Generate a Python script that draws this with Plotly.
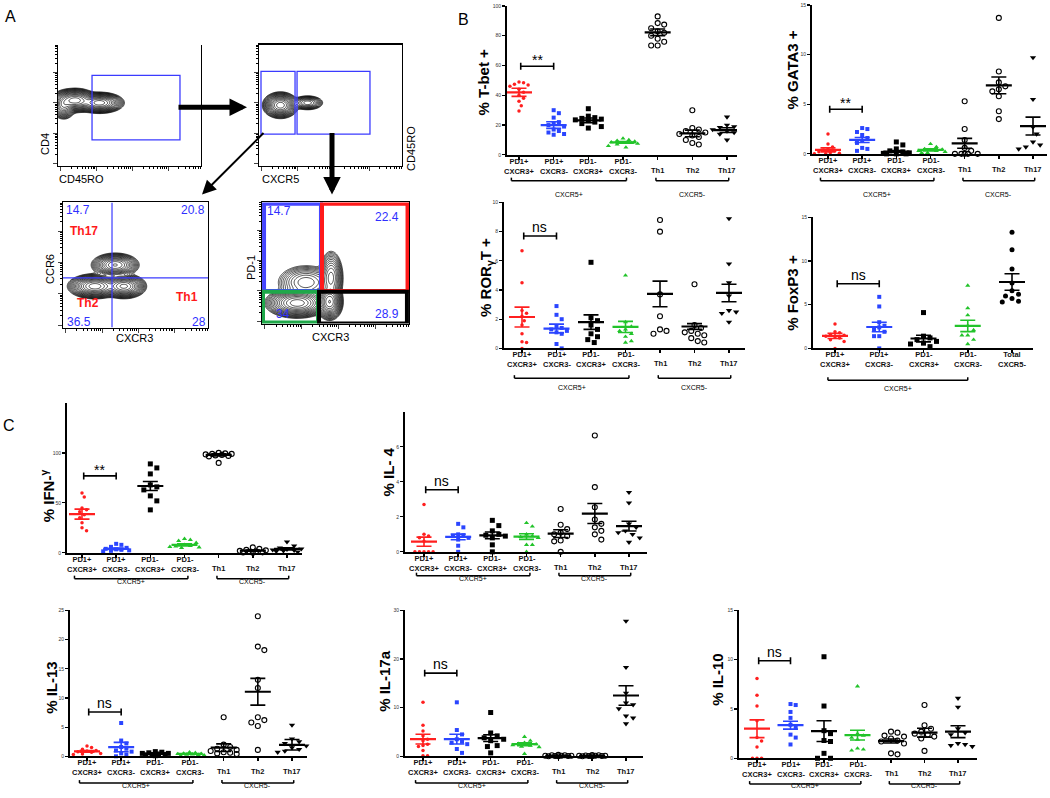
import numpy as np
import plotly.graph_objects as go

W, H = 1050, 798
FONT = "Liberation Sans, Arial, sans-serif"
TFONT = "Liberation Sans Narrow, Arial Narrow, Liberation Sans, Arial, sans-serif"
RED = "#ff1f1f"
BLUE = "#2a45ff"
GREEN = "#22c32a"
BLACK = "#000000"
GATE_BLUE = "#3b3bff"

# ---------------- data ----------------
CATS7 = ["PD1+<br>CXCR3+", "PD1+<br>CXCR3-", "PD1-<br>CXCR3+", "PD1-<br>CXCR3-", "Th1", "Th2", "Th17"]
CATS5 = ["PD1+<br>CXCR3+", "PD1+<br>CXCR3-", "PD1-<br>CXCR3+", "PD1-<br>CXCR3-", "Total<br>CXCR5-"]

TBET = [
    [49, 48.5, 47.5, 47, 46, 44, 42, 40, 38, 36, 33, 29.5],
    [30, 28, 25, 22, 21, 20, 19, 17, 16, 15, 14, 13.5],
    [31, 26, 25, 24.5, 24, 23.5, 23, 22, 21, 19, 18],
    [11, 10, 9.5, 9, 8.5, 8, 8, 7.5, 7, 6, 5],
    [93, 88.5, 87.5, 85, 83, 82, 80, 78, 76, 73.5, 73.5],
    [30, 18, 17, 16, 15, 14, 13, 12, 10, 8, 7],
    [25.5, 20, 19, 18.5, 18, 17, 16, 15, 14, 12, 10],
]
TBET_MEAN = [42, 20, 23.2, 8.4, 82.3, 14.4, 16.6]
TBET_SEM = [2.7, 2.2, 1.6, 0.5, 2.2, 2.2, 1.6]

GATA3 = [
    [2.0, 1.0, 0.7, 0.5, 0.4, 0.3, 0.2, 0.1, 0.05, 0, 0],
    [2.6, 2.5, 2.2, 1.9, 1.6, 1.3, 1.1, 0.6, 0.5, 0.3],
    [1.2, 0.9, 0.5, 0.3, 0.2, 0.1, 0.05, 0, 0, 0],
    [1.0, 0.7, 0.5, 0.45, 0.4, 0.3, 0.3, 0.2, 0.1, 0.1],
    [5.3, 2.5, 1.4, 0.6, 0.3, 0, 0, 0, 0, 0],
    [13.7, 8.3, 7.2, 6.8, 6.5, 6.3, 5.8, 4.3, 3.5],
    [9.7, 5.5, 2.7, 2.0, 1.2, 0.9, 0.7, 0.6, 0.5],
]
GATA3_MEAN = [0.4, 1.4, 0.23, 0.4, 1.06, 6.9, 2.8]
GATA3_SEM = [0.2, 0.25, 0.1, 0.1, 0.5, 0.85, 0.9]

RORGT = [
    [6.7, 4.5, 2.6, 2.4, 2.2, 1.9, 1.6, 1.0, 0.45, 0.4, 0],
    [2.9, 2.3, 2.0, 1.5, 1.4, 1.3, 1.2, 1.1, 1.0, 0.3, 0],
    [5.9, 2.1, 1.9, 1.6, 1.3, 1.0, 0.8, 0.6, 0.4],
    [5.0, 1.8, 1.5, 1.3, 1.2, 1.0, 0.8, 0.5, 0.4],
    [8.8, 8.0, 3.7, 2.2, 1.3, 1.2, 1.0],
    [4.4, 1.6, 1.4, 1.2, 1.1, 1.0, 0.9, 0.7, 0.5, 0.4],
    [8.9, 5.8, 4.5, 3.6, 2.6, 2.5, 2.4, 1.8],
]
RORGT_MEAN = [2.15, 1.36, 1.8, 1.47, 3.73, 1.5, 3.8]
RORGT_SEM = [0.68, 0.3, 0.5, 0.38, 0.88, 0.2, 0.6]

FOXP3 = [
    [2.8, 1.9, 1.8, 1.6, 1.5, 1.4, 1.3, 1.2, 1.0, 0.8, 0],
    [5.9, 4.8, 3.0, 2.6, 2.4, 2.2, 1.9, 1.4, 1.4, 0],
    [4.1, 1.4, 1.2, 1.0, 0.8, 0.6, 0.5, 0.2],
    [7.2, 4.6, 3.8, 2.6, 2.1, 1.5, 1.5, 1.0, 0.5],
    [13.3, 11.3, 9.1, 7.5, 6.6, 6.2, 6.0, 5.7, 5.4, 5.3],
]
FOXP3_MEAN = [1.43, 2.45, 1.13, 2.57, 7.6]
FOXP3_SEM = [0.3, 0.55, 0.38, 0.65, 0.95]

IFNG = [
    [60, 56, 45, 43, 41, 38, 35, 30, 25, 22],
    [9, 8, 6, 5, 4, 3.5, 3, 2.5, 2, 1.5],
    [89, 85, 79, 68, 66, 63, 57, 52, 43],
    [14, 13, 12, 10, 8, 7, 6.5, 6, 5.5, 5],
    [100, 99.5, 99, 99, 98.5, 98, 97.5, 97, 96.5, 90],
    [5.5, 4, 3, 2.5, 2, 1.5, 1, 0.5, 0.3, 0.1],
    [11, 7, 5, 4, 3.5, 3, 2.5, 2, 1.5, 1],
]
IFNG_MEAN = [38.7, 4, 66.9, 8, 98, 2.3, 4]
IFNG_SEM = [5, 0.8, 4.5, 1, 1, 0.6, 1]

IL4 = [
    [2.7, 1.0, 0.9, 0.8, 0.6, 0, 0, 0, 0, 0],
    [1.6, 1.4, 1.0, 0.95, 0.9, 0.8, 0.7, 0.35, 0],
    [1.8, 1.5, 1.2, 1.0, 0.95, 0.9, 0.8, 0.4, 0],
    [1.65, 1.45, 1.0, 0.9, 0.85, 0.8, 0.4, 0.4, 0],
    [2.45, 1.55, 1.3, 1.1, 1.0, 0.9, 0.65, 0.6, 0],
    [6.65, 3.7, 2.55, 1.85, 1.6, 1.4, 1.2, 1.0, 0.7],
    [3.4, 2.8, 1.6, 1.4, 1.2, 1.1, 1.0, 0.8, 0.55],
]
IL4_MEAN = [0.58, 0.85, 0.94, 0.87, 1.04, 2.19, 1.47]
IL4_SEM = [0.26, 0.16, 0.19, 0.16, 0.22, 0.57, 0.28]

IL13 = [
    [1.75, 1.5, 1.2, 1.0, 0.9, 0.8, 0.7, 0.5, 0.4, 0.3],
    [5.7, 2.7, 2.2, 1.6, 1.3, 1.0, 0.8, 0.5, 0.3, 0],
    [0.8, 0.7, 0.6, 0.5, 0.5, 0.4, 0.3, 0.3, 0.2, 0.1],
    [0.7, 0.6, 0.5, 0.45, 0.4, 0.35, 0.3, 0.25, 0.2, 0.1],
    [6.7, 2.0, 1.6, 1.3, 1.1, 0.9, 0.7, 0.6, 0.5, 0.4],
    [24.0, 18.8, 18.2, 13.1, 11.7, 6.7, 6.2, 5.8, 5.2, 1.1],
    [5.35, 3.0, 2.5, 2.2, 1.8, 1.5, 1.2, 0.9, 0.7],
]
IL13_MEAN = [0.85, 1.58, 0.45, 0.4, 1.47, 11.06, 1.97]
IL13_SEM = [0.15, 0.8, 0.07, 0.06, 0.65, 2.3, 0.9]

IL17A = [
    [11.1, 6.4, 5.2, 4.2, 3.5, 3.2, 2.5, 2.2, 2.0, 1.2, 0.1, 0.1],
    [11.1, 5.4, 4.5, 3.5, 3.0, 2.8, 2.5, 1.5, 0.7],
    [9.0, 4.8, 4.2, 3.8, 3.5, 3.2, 2.2, 2.0, 0.7],
    [4.0, 3.2, 2.8, 2.6, 2.5, 2.3, 2.2, 2.0, 1.9, 0.5],
    [0.3, 0.2, 0.2, 0.1, 0.1, 0.1, 0.05, 0.05, 0, 0],
    [0.25, 0.2, 0.15, 0.1, 0.1, 0.1, 0.05, 0.05, 0, 0],
    [27.8, 18.3, 13.0, 11.0, 10.6, 9.8, 8.3, 7.9, 6.7],
]
IL17A_MEAN = [3.53, 3.53, 3.73, 2.5, 0.1, 0.1, 12.5]
IL17A_SEM = [1.0, 1.0, 0.7, 0.3, 0.03, 0.03, 2.0]

IL10 = [
    [8.1, 6.4, 5.3, 3.8, 2.1, 1.75, 1.15, 0, 0, 0],
    [5.5, 5.4, 4.7, 4.1, 3.4, 3.1, 2.4, 2.1, 1.4],
    [10.3, 5.3, 2.8, 2.5, 1.8, 1.7, 0.5, 0, 0],
    [7.3, 2.5, 2.3, 2.1, 1.9, 1.0, 0.9, 0.8],
    [2.7, 2.6, 2.3, 2.2, 2.0, 1.8, 1.7, 1.5, 0.5, 0.4],
    [5.4, 3.35, 3.0, 2.7, 2.5, 2.4, 2.2, 2.0, 0.75],
    [6.1, 5.2, 3.0, 2.6, 2.4, 1.5, 1.4, 1.3, 1.2],
]
IL10_MEAN = [3.0, 3.36, 2.75, 2.35, 1.75, 2.6, 2.7]
IL10_SEM = [0.9, 0.4, 1.05, 0.5, 0.2, 0.45, 0.6]

# flow-cytometry density blobs: (x, y, sx, sy, weight) in axis fraction
FLOW1_BLOBS = [(0.12, 0.54, 0.05, 0.032, 1.0), (0.29, 0.52, 0.055, 0.028, 1.0), (0.04, 0.50, 0.03, 0.04, 0.4)]
FLOW2_BLOBS = [(0.15, 0.50, 0.04, 0.035, 1.0), (0.34, 0.52, 0.04, 0.022, 0.2)]
FLOW3_BLOBS = [(0.22, 0.33, 0.06, 0.032, 1.0), (0.42, 0.33, 0.05, 0.032, 0.9), (0.36, 0.50, 0.055, 0.032, 0.6)]
FLOW4_BLOBS = [(0.24, 0.17, 0.07, 0.04, 1.0), (0.46, 0.18, 0.03, 0.05, 0.8), (0.30, 0.34, 0.075, 0.055, 0.15), (0.47, 0.38, 0.03, 0.08, 0.25)]

# ---------------- figure helpers ----------------
fig = go.Figure()
layout = dict(width=W, height=H, margin=dict(l=0, r=0, t=0, b=0),
              paper_bgcolor="white", plot_bgcolor="rgba(0,0,0,0)",
              showlegend=False, hovermode=False,
              font=dict(family=FONT, color="black"))
shapes = []
annotations = []
axis_count = [0]


def px_x(px):
    return px / W


def px_y(py):
    return 1 - py / H


def new_axes(box, xr, yr, xkw, ykw):
    axis_count[0] += 1
    k = axis_count[0]
    xn = "xaxis" if k == 1 else f"xaxis{k}"
    yn = "yaxis" if k == 1 else f"yaxis{k}"
    xref = "x" if k == 1 else f"x{k}"
    yref = "y" if k == 1 else f"y{k}"
    l, r, t, b = box
    layout[xn] = dict(domain=[l / W, r / W], range=xr, anchor=yref, **xkw)
    layout[yn] = dict(domain=[1 - b / H, 1 - t / H], range=yr, anchor=xref, **ykw)
    return xref, yref


def text(x, y, s, size=11, color="black", angle=0, bold=False, xanchor="center", yanchor="middle", family=FONT):
    if bold:
        s = "<b>" + s + "</b>"
    annotations.append(dict(x=px_x(x), y=px_y(y), xref="paper", yref="paper", text=s,
                            showarrow=False, textangle=angle, xanchor=xanchor, yanchor=yanchor,
                            font=dict(size=size, color=color, family=family)))


def swarm_offsets(vals, ppu_y, ppu_x, d, maxw=15):
    n = len(vals)
    order = sorted(range(n), key=lambda i: -vals[i])
    placed = []
    offs = [0.0] * n
    cands = [0.0]
    step = d * 0.5
    k = 1
    while k * step <= maxw:
        cands += [k * step, -k * step]
        k += 1
    for i in order:
        y = vals[i] * ppu_y
        best, bestd = 0.0, -1
        for c in cands:
            md = min([((c - qx) ** 2 + (y - qy) ** 2) ** 0.5 for qx, qy in placed] or [1e9])
            if md >= d:
                best = c
                break
            if md > bestd:
                best, bestd = c, md
        placed.append((best, y))
        offs[i] = best / ppu_x
    return offs


MARK7 = [("circle", RED, 3.5, RED), ("square", BLUE, 4, BLUE), ("square", BLACK, 5, BLACK),
         ("triangle-up", GREEN, 4.5, GREEN), ("circle-open", BLACK, 5, BLACK),
         ("circle-open", BLACK, 5, BLACK), ("triangle-down", BLACK, 5.5, BLACK)]
MARK5 = MARK7[:4] + [("circle", BLACK, 5, BLACK)]


def dot_panel(box, cat_px, cats, vals, means, sems, marks, title, tpos, yticks, ymax,
              stat, stat_y, groups, boff, loff):
    axL, axR, axT, axB = box
    n = len(cats)
    c0, c1 = cat_px
    ppu_x = (c1 - c0) / (n - 1)
    xr = [-(c0 - axL) / ppu_x, (n - 1) + (axR - c1) / ppu_x]
    ppu_y = (axB - axT) / ymax
    xkw = dict(showline=True, linecolor="black", linewidth=2, ticks="outside", ticklen=3,
               tickwidth=1.5, tickcolor="black", tickvals=list(range(n)), showticklabels=False,
               showgrid=False, zeroline=False)
    ykw = dict(showline=True, linecolor="black", linewidth=2, ticks="outside", ticklen=3,
               tickwidth=1.2, tickcolor="black", tickvals=yticks,
               tickfont=dict(size=5, color="#333", family=FONT), showgrid=False, zeroline=False)
    xa, ya = new_axes((axL, axR, axT, axB), xr, [0, ymax], xkw, ykw)
    for gi, v in enumerate(vals):
        sym, col, size, lc = marks[gi]
        offs = swarm_offsets(v, ppu_y, ppu_x, size * 1.3)
        fig.add_trace(go.Scatter(x=[gi + o for o in offs], y=v, mode="markers", xaxis=xa, yaxis=ya,
                                 cliponaxis=False,
                                 marker=dict(symbol=sym, color=col, size=size,
                                             line=dict(color=lc, width=1.1 if "open" in sym else 0))))
        m, s = means[gi], sems[gi]
        hw = 13 / ppu_x
        cw = 7.5 / ppu_x
        fig.add_trace(go.Scatter(x=[gi - hw, gi + hw], y=[m, m], mode="lines", xaxis=xa, yaxis=ya,
                                 cliponaxis=False, line=dict(color=col, width=2.2)))
        fig.add_trace(go.Scatter(x=[gi - cw, gi + cw, None, gi, gi, None, gi - cw, gi + cw],
                                 y=[m + s, m + s, None, m + s, m - s, None, m - s, m - s],
                                 mode="lines", xaxis=xa, yaxis=ya, cliponaxis=False,
                                 line=dict(color=col, width=1.6)))
        # category label
        two = "<br>" in cats[gi]
        annotations.append(dict(x=gi, y=px_y(axB + (11.5 if two else 15.5)), xref=xa, yref="paper",
                                text="<b>" + cats[gi] + "</b>", showarrow=False, yanchor="middle",
                                font=dict(size=7.5, family=FONT, color="#111")))
    # significance bracket
    cap = 3.5 / ppu_y
    fig.add_trace(go.Scatter(x=[0.05, 0.05, None, 0.05, 1.0, None, 1.0, 1.0],
                             y=[stat_y - cap, stat_y + cap, None, stat_y, stat_y, None, stat_y - cap, stat_y + cap],
                             mode="lines", xaxis=xa, yaxis=ya, line=dict(color="black", width=1.6)))
    annotations.append(dict(x=0.52, y=stat_y, xref=xa, yref=ya, text=stat, showarrow=False,
                            yanchor="bottom", yshift=-1 if stat == "ns" else -4,
                            font=dict(size=14, family=FONT, color="black")))
    # group brackets under the axis
    for (g0, g1, lab) in groups:
        yb = px_y(axB + boff)
        shapes.append(dict(type="line", xref=xa, yref="paper", x0=g0, x1=g1, y0=yb, y1=yb,
                           line=dict(color="black", width=1.5)))
        for gx in (g0, g1):
            shapes.append(dict(type="line", xref=xa, yref="paper", x0=gx, x1=gx, y0=yb, y1=px_y(axB + boff - 3),
                               line=dict(color="black", width=1.5)))
        annotations.append(dict(x=(g0 + g1) / 2, y=px_y(axB + loff), xref=xa, yref="paper", text=lab,
                                showarrow=False, font=dict(size=7, family=FONT, color="black")))
    text(tpos[0], tpos[1], "<b>" + title + "</b>", size=15, angle=-90, family=TFONT)


G7 = [(-0.22, 3.1, "CXCR5+"), (3.95, 6.05, "CXCR5-")]

dot_panel((507, 737, 3, 153), (519, 727), CATS7, TBET, TBET_MEAN, TBET_SEM, MARK7,
          "% T-bet +", (483, 80), [0, 20, 40, 60, 80, 100], 100, "**", 59.5, G7, 26, 34)
dot_panel((812, 1047, 2, 152), (828, 1033), CATS7, GATA3, GATA3_MEAN, GATA3_SEM, MARK7,
          "% GATA3 +", (792, 68), [0, 5, 10, 15], 15, "**", 4.5, G7, 27, 35)
dot_panel((504, 745, 201, 348), (522, 729), CATS7, RORGT, RORGT_MEAN, RORGT_SEM, MARK7,
          "% ROR<sub>γ</sub>T +", (487, 277), [0, 2, 4, 6, 8, 10], 10, "ns", 7.7, G7, 30, 39)
dot_panel((813, 1033, 216, 348), (835, 1012), CATS5, FOXP3, FOXP3_MEAN, FOXP3_SEM, MARK5,
          "% FoxP3 +", (793, 292), [0, 5, 10, 15], 15, "ns", 7.4, [(-0.16, 3.0, "CXCR5+")], 32, 40)
dot_panel((67, 302, 403, 554), (82, 287), CATS7, IFNG, IFNG_MEAN, IFNG_SEM, MARK7,
          "% IFN-<sup>γ</sup>", (47, 497), [0, 50, 100], 150, "**", 77, G7, 26, 34)
dot_panel((405, 647, 412, 553), (424, 629), CATS7, IL4, IL4_MEAN, IL4_SEM, MARK7,
          "% IL- 4", (388, 473), [0, 2, 4, 6], 8, "ns", 3.55, G7, 24, 32)
dot_panel((70, 307, 612, 759), (87, 292), CATS7, IL13, IL13_MEAN, IL13_SEM, MARK7,
          "% IL-13", (52, 690), [0, 5, 10, 15, 20, 25], 25, "ns", 7.6, G7, 27, 35)
dot_panel((405, 643, 612, 759), (423, 626), CATS7, IL17A, IL17A_MEAN, IL17A_SEM, MARK7,
          "% IL-17a", (385, 683), [0, 10, 20, 30], 30, "ns", 17.1, G7, 27, 35)
dot_panel((739, 977, 612, 761), (757, 958), CATS7, IL10, IL10_MEAN, IL10_SEM, MARK7,
          "% IL-10", (718, 682), [0, 5, 10, 15], 15, "ns", 9.9, G7, 26, 33)

# ---------------- panel A: flow plots ----------------
decades = [0.02, 0.27, 0.52, 0.77]
major = [d for d in decades]
minor = [d + np.log10(m) * 0.25 for d in decades for m in range(2, 10) if d + np.log10(m) * 0.25 < 1]
grid = np.linspace(0, 1, 161)
GX, GY = np.meshgrid(grid, grid)


def flow_plot(box, blobs, top_line=True):
    fkw = dict(showline=True, linecolor="black", linewidth=1.2, ticks="outside", ticklen=4, tickwidth=1,
               tickvals=major, showticklabels=False, showgrid=False, zeroline=False,
               minor=dict(tickvals=minor, ticklen=2, ticks="outside", tickcolor="black"))
    xkw = dict(fkw, mirror=top_line)
    ykw = dict(fkw, mirror=True)
    xa, ya = new_axes(box, [0, 1], [0, 1], xkw, ykw)
    z = np.zeros_like(GX)
    for (cx, cy, sx, sy, w) in blobs:
        z += w * np.exp(-((GX - cx) ** 2 / (2 * sx ** 2) + (GY - cy) ** 2 / (2 * sy ** 2)))
    lz = np.log10(np.maximum(z / z.max(), 1e-6))
    fig.add_trace(go.Contour(x=grid, y=grid, z=lz, xaxis=xa, yaxis=ya, showscale=False,
                             contours=dict(coloring="lines", start=-2.2, end=-0.05, size=0.14),
                             colorscale=[[0, "black"], [1, "black"]],
                             line=dict(width=0.7), hoverinfo="skip"))
    return xa, ya


def gate(xa, ya, x0, x1, y0, y1, color, width):
    shapes.append(dict(type="rect", xref=xa, yref=ya, x0=x0, x1=x1, y0=y0, y1=y1,
                       line=dict(color=color, width=width), fillcolor="rgba(0,0,0,0)"))


xa, ya = flow_plot((58, 201, 42, 164), FLOW1_BLOBS, top_line=False)
gate(xa, ya, 0.238, 0.853, 0.213, 0.746, GATE_BLUE, 1.3)
xa, ya = flow_plot((259, 402, 42, 164), FLOW2_BLOBS)
gate(xa, ya, 0.014, 0.252, 0.262, 0.779, GATE_BLUE, 1.3)
gate(xa, ya, 0.266, 0.776, 0.262, 0.779, GATE_BLUE, 1.3)
xa, ya = flow_plot((63, 208, 201, 327), FLOW3_BLOBS)
shapes.append(dict(type="line", xref=xa, yref=ya, x0=0.338, x1=0.338, y0=0, y1=1, line=dict(color=GATE_BLUE, width=1.2)))
shapes.append(dict(type="line", xref=xa, yref=ya, x0=0, x1=1, y0=0.397, y1=0.397, line=dict(color=GATE_BLUE, width=1.2)))
xa, ya = flow_plot((262, 409, 201, 323), FLOW4_BLOBS)
gate(xa, ya, 0.014, 0.401, 0.27, 0.99, "#4646ff", 4)
gate(xa, ya, 0.408, 0.99, 0.27, 0.99, "#ff1a1a", 4)
gate(xa, ya, 0.007, 0.381, 0.008, 0.262, "#1fa84a", 4)
gate(xa, ya, 0.388, 0.986, 0.0, 0.262, "black", 4)

# flow labels
text(45, 142, "CD4", 11, angle=-90)
text(81, 177, "CD45RO", 11)
text(280, 177, "CXCR5", 11)
text(411, 147, "CD45RO", 11, angle=-90)
text(50, 268, "CCR6", 11, angle=-90)
text(134, 338, "CXCR3", 11)
text(251, 267, "PD-1", 11, angle=-90)
text(330, 337, "CXCR3", 11)
for (x, y, s) in [(78, 209, "14.7"), (193, 209, "20.8"), (79, 321, "36.5"), (199, 321, "28"),
                  (279, 210, "14.7"), (387, 216, "22.4"), (283, 313, "34"), (387, 313, "28.9")]:
    text(x, y, s, 12, color="#2f2fff")
text(84, 230, "Th17", 12, color="#ff1a1a", bold=True)
text(88, 302, "Th2", 12, color="#ff1a1a", bold=True)
text(187, 296, "Th1", 12, color="#ff1a1a", bold=True)

# arrows
for (hx, hy, ax, ay, w, sz) in [(247, 105, -70, 0, 5, 0.7), (202, 193, 63, -63, 2, 1.4), (332, 193, 0, -63, 5, 0.7)]:
    annotations.append(dict(x=px_x(hx), y=px_y(hy), xref="paper", yref="paper", text="",
                            showarrow=True, ax=ax, ay=ay, arrowhead=2, arrowwidth=w, arrowsize=sz,
                            arrowcolor="black"))

# panel letters
text(10, 14, "A", 16)
text(463, 17, "B", 16)
text(9, 426, "C", 16)

layout["shapes"] = shapes
layout["annotations"] = annotations
fig.update_layout(**layout)
fig.write_html("out.html", config={"displayModeBar": False, "staticPlot": True},
               post_script="document.body.style.margin='0';document.body.style.overflow='hidden';")
